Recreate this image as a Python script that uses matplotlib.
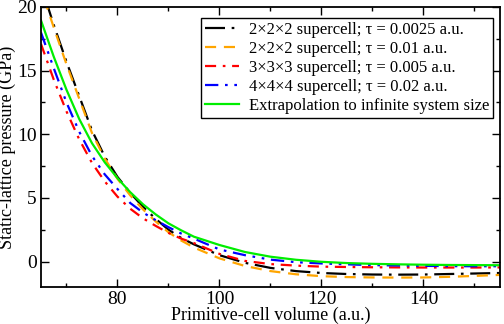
import matplotlib
matplotlib.use("Agg")
import matplotlib.pyplot as plt
from matplotlib.ticker import MultipleLocator

plt.rcParams['font.family'] = ['Liberation Serif', 'DejaVu Serif']

# Primitive-cell volume (a.u.) sample points
vol = [65, 67.5, 70, 72.5, 75, 77.5, 80, 82.5, 85, 87.5, 90, 92.5, 95,
       100, 105, 110, 115, 120, 125, 130, 135, 140, 145, 150, 155]

# Static-lattice pressure (GPa)
p_222_0025 = [21.7, 18.6, 15.7, 13.0, 10.3, 8.25, 6.65, 5.4, 4.3, 3.35, 2.5, 1.85, 1.35,
              0.5, -0.1, -0.5, -0.75, -0.9, -0.98, -1.02, -1.03, -1.02, -0.98, -0.94, -0.9]
p_222_001 = [21.4, 18.4, 15.5, 12.8, 10.1, 8.1, 6.5, 5.2, 4.1, 3.15, 2.3, 1.65, 1.1,
             0.25, -0.35, -0.75, -1.0, -1.15, -1.22, -1.25, -1.26, -1.25, -1.2, -1.13, -1.05]
p_333_0005 = [17.1, 14.3, 11.8, 9.6, 7.75, 6.3, 5.1, 4.15, 3.4, 2.8, 2.25, 1.8, 1.45,
              0.6, 0.05, -0.2, -0.32, -0.4, -0.43, -0.45, -0.46, -0.47, -0.47, -0.47, -0.46]
p_444_002 = [18.0, 15.2, 12.5, 10.2, 8.3, 6.85, 5.7, 4.6, 3.85, 3.25, 2.7, 2.2, 1.8,
             0.95, 0.5, 0.15, -0.05, -0.15, -0.22, -0.28, -0.31, -0.34, -0.36, -0.37, -0.37]
p_extrap = [18.95, 16.1, 13.5, 11.2, 9.3, 7.8, 6.55, 5.45, 4.5, 3.7, 3.0, 2.45, 1.95,
            1.3, 0.75, 0.38, 0.14, -0.02, -0.12, -0.18, -0.22, -0.25, -0.27, -0.28, -0.29]

labels = [
    "2×2×2 supercell; τ = 0.0025 a.u.",
    "2×2×2 supercell; τ = 0.01 a.u.",
    "3×3×3 supercell; τ = 0.005 a.u.",
    "4×4×4 supercell; τ = 0.02 a.u.",
    "Extrapolation to infinite system size",
]

fig = plt.figure(figsize=(5.04, 3.24), dpi=100)
ax = fig.add_axes([0.0813, 0.1142, 0.9107, 0.8642])

lw = 1.6
ax.plot(vol, p_222_0025, color='black', lw=lw, linestyle=(0, (9, 3, 1.2, 3)), label=labels[0])
ax.plot(vol, p_222_001, color='#ffa500', lw=lw, linestyle=(0, (5, 3.5)), label=labels[1])
ax.plot(vol, p_333_0005, color='#ff0000', lw=lw, linestyle=(0, (5, 3, 1.2, 3)), label=labels[2])
ax.plot(vol, p_444_002, color='#0000ff', lw=lw, linestyle=(0, (6, 3, 1.2, 3, 1.2, 3)), label=labels[3])
ax.plot(vol, p_extrap, color='#00ee00', lw=lw, linestyle='-', label=labels[4])

ax.set_xlim(65, 155)
ax.set_ylim(-2, 20)
ax.xaxis.set_major_locator(MultipleLocator(20))
ax.xaxis.set_minor_locator(MultipleLocator(10))
ax.yaxis.set_major_locator(MultipleLocator(5))
ax.yaxis.set_minor_locator(MultipleLocator(2.5))
ax.tick_params(which='both', direction='in', top=True, right=True, labelsize=14, width=1)
ax.tick_params(which='major', length=6, pad=3)
ax.tick_params(which='minor', length=3)
for s in ax.spines.values():
    s.set_linewidth(1.3)

ax.set_xlabel("Primitive-cell volume (a.u.)", fontsize=13, labelpad=-1)
ax.set_ylabel("Static-lattice pressure (GPa)", fontsize=13, labelpad=1)

leg = ax.legend(loc='upper right', bbox_to_anchor=(0.985, 0.961), borderaxespad=0,
                fontsize=12, handlelength=2.0, fancybox=False, framealpha=1,
                edgecolor='black', labelspacing=0.18, borderpad=0.25, handletextpad=0.6)
leg.get_frame().set_linewidth(1)

fig.savefig("out.png", dpi=100)
